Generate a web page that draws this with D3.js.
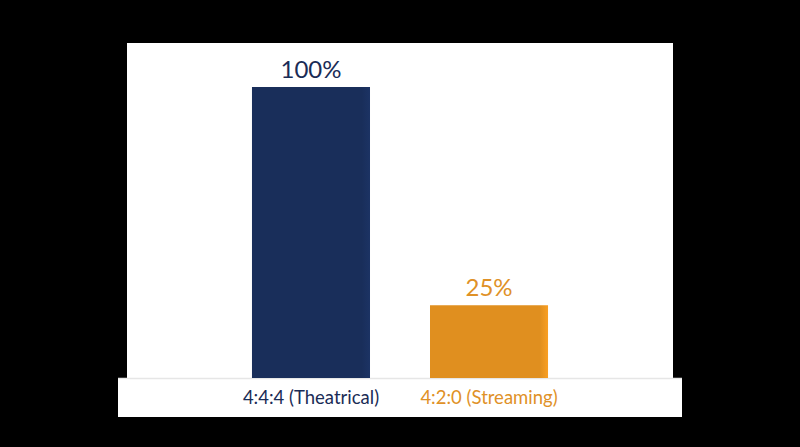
<!DOCTYPE html>
<html><head><meta charset="utf-8">
<script src="https://cdn.jsdelivr.net/npm/d3@7"></script>
<style>html,body{margin:0;padding:0;background:#000;}svg{display:block;}</style>
</head><body>
<svg id="c" width="800" height="447"></svg>
<script>
const categories = ["4:4:4 (Theatrical)", "4:2:0 (Streaming)"];
const values = [100, 25];
const valueLabels = ["100%", "25%"];
const colors = ["#192e5a", "#e08f1f"];
const textColors = ["#1a2c56", "#df9127"];

const svg = d3.select("#c");
svg.append("rect").attr("width",800).attr("height",447).attr("fill","#000");

const defs = svg.append("defs");
colors.forEach((c,i)=>{
  const g = defs.append("linearGradient").attr("id","g"+i).attr("x1","0").attr("x2","1");
  const base = d3.color(c);
  g.append("stop").attr("offset","0").attr("stop-color",base.formatHex());
  g.append("stop").attr("offset","0.93").attr("stop-color",base.formatHex());
  g.append("stop").attr("offset","1").attr("stop-color",base.brighter(0.3).formatHex());
});

svg.append("rect").attr("x",127).attr("y",43).attr("width",546).attr("height",336).attr("fill","#fff");
svg.append("rect").attr("x",118).attr("y",378).attr("width",564).attr("height",39).attr("fill","#fff");
svg.append("line").attr("x1",118).attr("x2",682).attr("y1",378.5).attr("y2",378.5).attr("stroke","#e6e6e6").attr("stroke-width",1.5);

const x = d3.scaleBand().domain(categories).range([127,673]).paddingInner(0.337).paddingOuter(0.702);
const y = d3.scaleLinear().domain([0,100]).range([378,87]);

svg.selectAll("rect.bar").data(values).join("rect").attr("class","bar")
  .attr("x",(d,i)=>x(categories[i]))
  .attr("y",d=>y(d))
  .attr("width",x.bandwidth())
  .attr("height",d=>y(0)-y(d))
  .attr("fill",(d,i)=>"url(#g"+i+")");

svg.selectAll("text.val").data(values).join("text").attr("class","val")
  .attr("x",(d,i)=>x(categories[i])+x.bandwidth()/2)
  .attr("y",d=>y(d)-9)
  .attr("text-anchor","middle")
  .attr("font-family","Lato, 'Open Sans', sans-serif")
  .attr("font-size",24)
  .attr("fill",(d,i)=>textColors[i])
  .text((d,i)=>valueLabels[i]);

svg.selectAll("text.cat").data(categories).join("text").attr("class","cat")
  .attr("x",d=>x(d)+x.bandwidth()/2)
  .attr("y",404)
  .attr("text-anchor","middle")
  .attr("font-family","Lato, 'Open Sans', sans-serif")
  .attr("font-size",18.5)
  .attr("fill",(d,i)=>textColors[i])
  .text(d=>d);
</script>
</body></html>
